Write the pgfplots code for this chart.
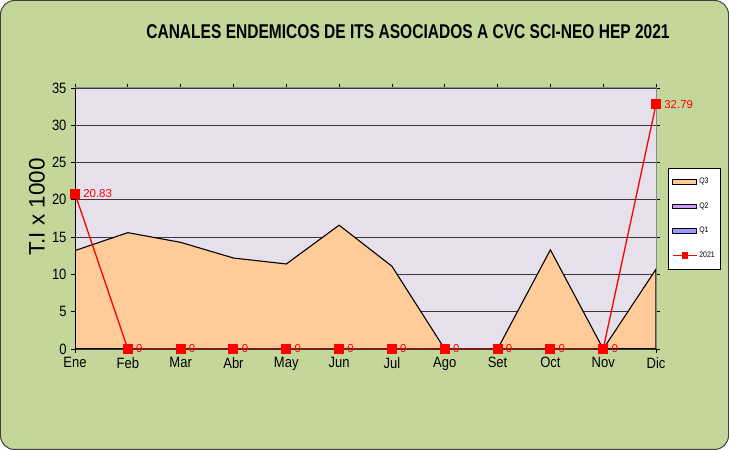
\documentclass[border=0pt]{standalone}
\usepackage{fontspec}
\setmainfont{Liberation Sans}
\newfontfamily\narrow{Liberation Sans}[FakeStretch=0.87]
\newfontfamily\titlefont{Liberation Sans}[FakeStretch=0.78]
\usepackage{pgfplots}
\pgfplotsset{compat=1.18}

\definecolor{bgouter}{HTML}{C4D79B}
\definecolor{plotbg}{HTML}{E6E0EC}
\definecolor{qthree}{HTML}{FFCC99}
\definecolor{qtwo}{HTML}{CC99FF}
\definecolor{qone}{HTML}{9999FF}
\definecolor{gridc}{HTML}{3A3A3A}

\begin{document}
\begin{tikzpicture}[x=1bp,y=1bp]
  % chart area
  \draw[rounded corners=14bp, fill=bgouter, draw=black!75, line width=1bp]
    (0.5,0.5) rectangle (728.5,449.5);
  \node[font=\titlefont\bfseries\fontsize{20}{22}\selectfont, anchor=center]
    at (408,418) {CANALES ENDEMICOS DE ITS ASOCIADOS A CVC SCI-NEO HEP 2021};

  \begin{axis}[
    at={(75bp,101bp)}, anchor=south west,
    scale only axis, width=581bp, height=261bp,
    xmin=0, xmax=11, ymin=0, ymax=35,
    xtick={0,...,11},
    xticklabels={Ene,Feb,Mar,Abr,May,Jun,Jul,Ago,Set,Oct,Nov,Dic},
    ytick={0,5,...,35},
    /pgf/number format/assume math mode=true,
    ticklabel style={font=\narrow\fontsize{15}{16}\selectfont, text=black},
    xticklabel style={yshift=-1bp},
    yticklabel style={xshift=-1bp},
    tick align=outside, major tick length=4bp,
    tick style={black, line width=0.8bp},
    ymajorgrids, major grid style={gridc, line width=0.9bp},
    axis line style={draw=black!45, line width=1bp},
    axis background/.style={fill=plotbg},
    ylabel={T.I x 1000},
    ylabel style={font=\fontsize{22.5}{24}\selectfont,
      at={(axis description cs:-0.0654,0.544)}, anchor=center},
    legend cell align=left,
    legend style={at={(1.0207,0.6935)}, anchor=north west,
      draw=black, fill=white, line width=0.6bp,
      font=\narrow\fontsize{8}{9}\selectfont,
      row sep=13.5bp, inner xsep=4bp, inner ysep=8bp},
    area legend/.style={legend image code/.code={
      \draw[##1, line width=1bp] (0bp,-2.2bp) rectangle (24bp,2.2bp);}},
  ]
    % upper quartile channel
    \addplot[fill=qthree, draw=black, line width=1.1bp, area legend]
      coordinates {(0,13.2) (1,15.6) (2,14.3) (3,12.2) (4,11.4) (5,16.6)
                   (6,11.1) (7,0) (8,0) (9,13.3) (10,0) (11,10.7)} \closedcycle;
    \addlegendentry{Q3}
    % median channel
    \addplot[fill=qtwo, draw=black, line width=1.1bp, area legend]
      coordinates {(0,0) (1,0) (2,0) (3,0) (4,0) (5,0)
                   (6,0) (7,0) (8,0) (9,0) (10,0) (11,0)} \closedcycle;
    \addlegendentry{Q2}
    % lower quartile channel
    \addplot[fill=qone, draw=black, line width=1.1bp, area legend]
      coordinates {(0,0) (1,0) (2,0) (3,0) (4,0) (5,0)
                   (6,0) (7,0) (8,0) (9,0) (10,0) (11,0)} \closedcycle;
    \addlegendentry{Q1}
    % axis lines
    \draw[black, line width=1.2bp] (rel axis cs:0,0) -- (rel axis cs:0,1);
    \draw[black, line width=2bp] (rel axis cs:0,0) -- (rel axis cs:1,0);
    % observed rates 2021
    \addplot[red, line width=1.3bp, mark=square*, mark size=4.5bp,
      mark options={solid, fill=red, line width=0bp},
      legend image code/.code={
        \draw[red, line width=1bp] (0bp,0bp) -- (24bp,0bp);
        \fill[red] (9.5bp,-2.5bp) rectangle (14.5bp,2.5bp);},
      nodes near coords,
      every node near coord/.append style={anchor=west, xshift=5bp, yshift=0bp,
        text=red, font=\fontsize{11.5}{12}\selectfont},
      /pgf/number format/fixed, /pgf/number format/precision=2]
      coordinates {(0,20.83) (1,0) (2,0) (3,0) (4,0) (5,0)
                   (6,0) (7,0) (8,0) (9,0) (10,0) (11,32.79)};
    \addlegendentry{2021}
  \end{axis}
\end{tikzpicture}
\end{document}
